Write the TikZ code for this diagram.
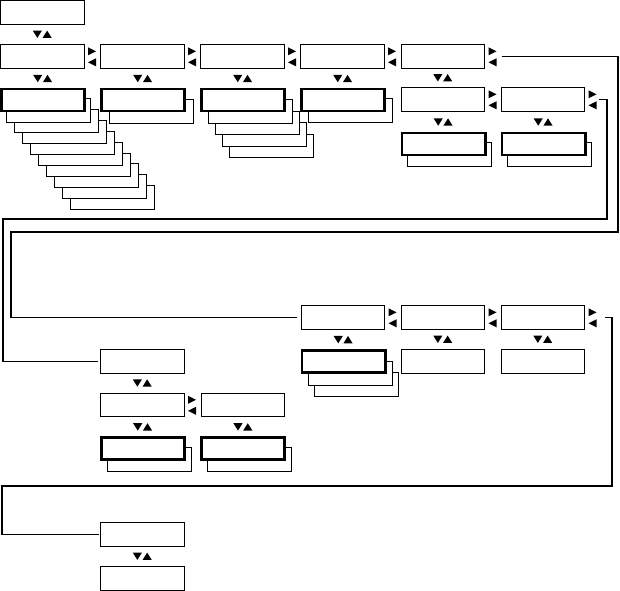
\documentclass[tikz,border=0pt]{standalone}
\usetikzlibrary{calc}
\begin{document}
\begin{tikzpicture}[x=1pt,y=-1pt,
  box/.style={draw, fill=white, line width=1pt, minimum width=83.5pt, minimum height=23.5pt, inner sep=0pt, outer sep=0pt, anchor=north west},
  backbox/.style={box, minimum width=84pt},
  tbox/.style={box, line width=2.6pt, minimum width=83.4pt, minimum height=22pt},
  conn/.style={line width=1.2pt},
  lr/.pic={\fill (-4,-9) -- (-4,-1) -- (4,-5) -- cycle; \fill (4,2) -- (4,10) -- (-4,6) -- cycle;},
  ud/.pic={\fill (-9.5,-3.7) -- (-0.3,-3.7) -- (-4.9,3.7) -- cycle; \fill (0.3,3.7) -- (9.5,3.7) -- (4.9,-3.7) -- cycle;}
]
\useasboundingbox (0,0) rectangle (620,590);

% ---------- top part ----------
\node[box] (A0) at (0.5,0.5) {};
\node[box] (A1) at (0.5,44.5) {};
\node[box] (B1) at (100.5,44.5) {};
\node[box] (C1) at (200.5,44.5) {};
\node[box] (D1) at (300.5,44.5) {};
\node[box] (E1) at (401,44.5) {};

% stacks (back to front)
\foreach \i in {8,7,...,0} {
  \node[backbox] (A2b\i) at ({6.5+8*\i},{98.5+10.9*\i}) {};
}
\node[tbox] (A2) at (1.3,89) {};
\node[backbox] (B2b0) at (109.5,99.5) {};
\node[tbox] (B2) at (101.3,89) {};
\foreach \i in {3,2,1,0} {
  \node[backbox] (C2b\i) at ({208.5+7*\i},{99.5+11.6*\i}) {};
}
\node[tbox] (C2) at (201.3,89) {};
\node[backbox] (D2b0) at (308.5,98.5) {};
\node[tbox] (D2) at (301.3,89) {};

\node[box] (E2) at (401,87.5) {};
\node[box] (F2) at (501,87.5) {};
\node[backbox] (E3b0) at (407.5,142.5) {};
\node[tbox] (E3) at (401.8,133) {};
\node[backbox] (F3b0) at (507.5,142.5) {};
\node[tbox] (F3) at (501.8,133) {};

% ---------- middle row ----------
\node[box] (G1) at (301,305.5) {};
\node[box] (H1) at (401,305.5) {};
\node[box] (I1) at (501,305.5) {};
\node[backbox] (G2b1) at (314.5,372.5) {};
\node[backbox] (G2b0) at (308.5,361.5) {};
\node[tbox] (G2) at (301.8,350.3) {};
\node[box] (H2) at (401,349.5) {};
\node[box] (I2) at (501,349.5) {};

% ---------- left branch ----------
\node[box] (L1) at (100.5,349.5) {};
\node[box] (L2) at (100.5,393) {};
\node[box] (M2) at (201,393) {};
\node[backbox] (L3b0) at (107.5,447.5) {};
\node[tbox] (L3) at (101.3,437.3) {};
\node[backbox] (M3b0) at (207.5,447.5) {};
\node[tbox] (M3) at (201.3,437.3) {};

% ---------- bottom ----------
\node[box] (N1) at (100.5,522.5) {};
\node[box] (N2) at (100.5,566.5) {};

% ---------- left/right arrows ----------
\foreach \n in {A1,B1,C1,D1,E1,E2,F2,G1,H1,I1,L2} {
  \pic at ([xshift=8pt]\n.east) {lr};
}

% ---------- up/down arrows ----------
\foreach \a/\b in {A0/A1,A1/A2,B1/B2,C1/C2,D1/D2,E1/E2,E2/E3,F2/F3,G1/G2,H1/H2,I1/I2,L1/L2,L2/L3,M2/M3,N1/N2} {
  \pic at ($(\a.south)!0.5!(\b.north)$) {ud};
}

% ---------- connectors ----------
\coordinate (k1) at (618,232);
\coordinate (k2) at (11,232);
\coordinate (k3) at (607,219);
\coordinate (k4) at (3,219);
\coordinate (k5) at (612,486);
\coordinate (k6) at (2,486);
\draw[conn] ([xshift=17pt]E1.east) -| (k1) -- (k2) |- ([xshift=-4pt]G1.west);
\draw[conn] ([xshift=14pt]F2.east) -| (k3) -- (k4) |- ([xshift=-3pt]L1.west);
\draw[conn] ([xshift=20pt]I1.east) -| (k5) -- (k6) |- ([xshift=-2pt]N1.west);
\end{tikzpicture}
\end{document}
